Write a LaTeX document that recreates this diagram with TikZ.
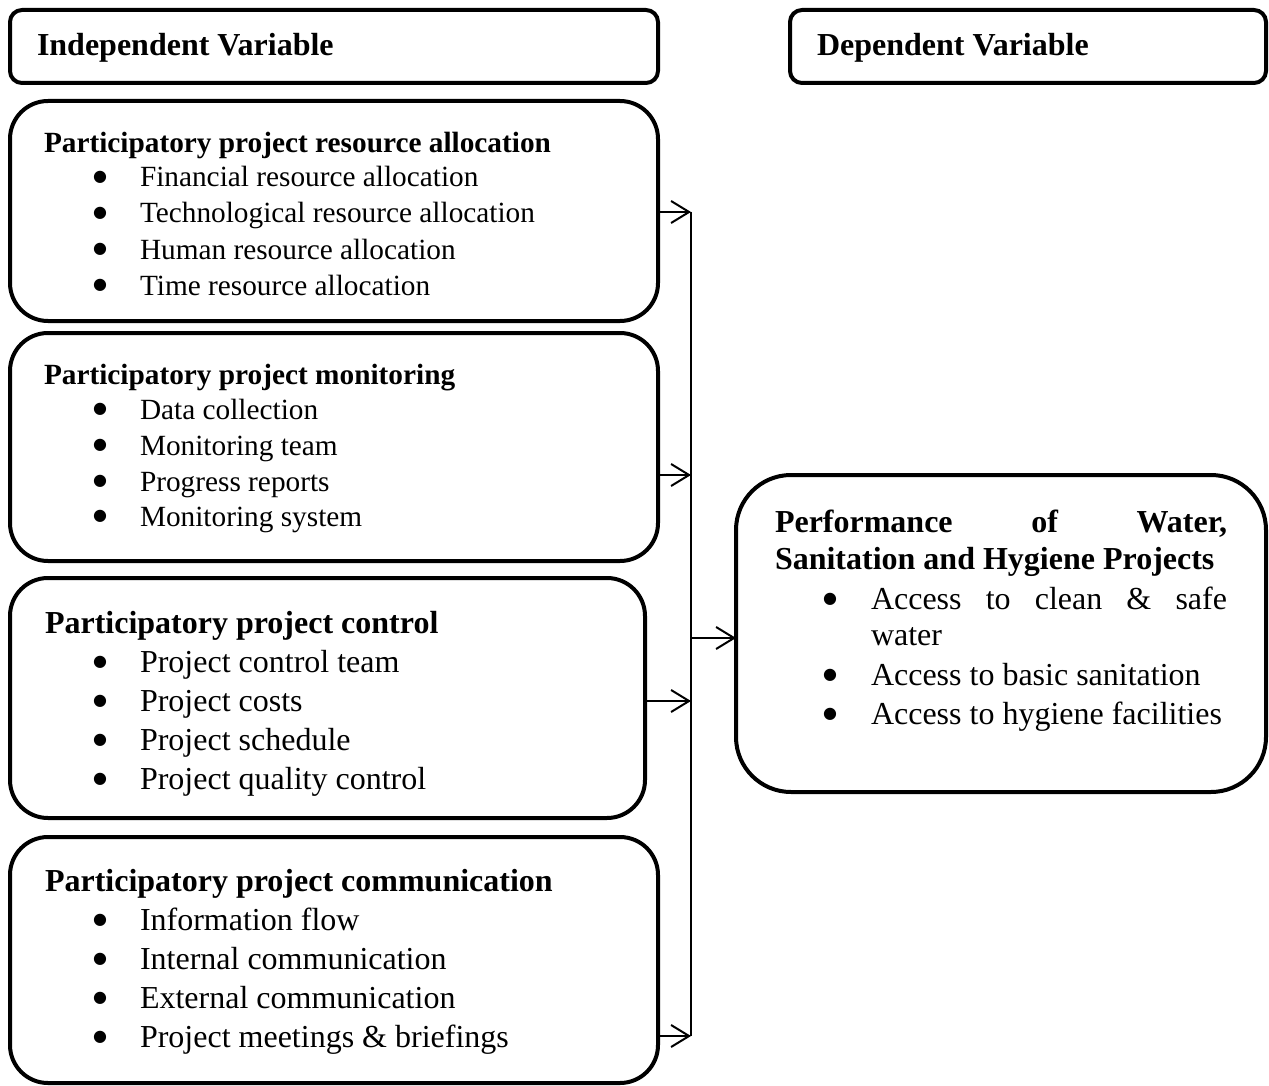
\documentclass[tikz,border=0pt]{standalone}
\usepackage{fontspec}
\setmainfont{Liberation Serif}
\newfontfamily\bulfont{DejaVu Sans}
\usetikzlibrary{arrows.meta}
\newcommand\sizeA{\fontsize{32}{39}\selectfont}
\newcommand\sizeB{\fontsize{29.3}{36}\selectfont}
\newcommand\bigbul{{\bulfont\fontsize{16}{16}\selectfont\raisebox{5.5pt}{●}}}
\tikzset{
  box/.style={draw, line width=4pt, inner sep=0pt, outer sep=0pt},
  txt/.style={anchor=base west, inner sep=0pt, outer sep=0pt},
  bul/.style={anchor=base, inner sep=0pt, outer sep=0pt},
  conn/.style={line width=2pt},
  arr/.style={line width=2pt, -{Straight Barb[length=18pt,width=22pt,line width=2pt]}},
}
\begin{document}
\begin{tikzpicture}[x=1pt,y=-1pt]
\useasboundingbox (0,0) rectangle (1269,1086);
% header boxes
\node[box, rounded corners=12pt, minimum width=648pt, minimum height=73pt] (hI) at (334,46.5) {};
\node[box, rounded corners=12pt, minimum width=476pt, minimum height=73pt] (hD) at (1028,46.5) {};
\node[txt, font=\sizeA\bfseries] (hIt) at (37,56) {Independent Variable};
\node[txt, font=\sizeA\bfseries] (hDt) at (817,56) {Dependent Variable};
% box 1
\node[box, rounded corners=38pt, minimum width=648pt, minimum height=220pt] (b1) at (334,211) {};
\node[txt, font=\sizeB\bfseries] (b1t) at (44,153) {Participatory project resource allocation};
\foreach \y/\s [count=\i] in {187/Financial resource allocation, 223/Technological resource allocation, 259/Human resource allocation, 295/Time resource allocation}{
  \node[bul] (b1b\i) at (100,\y) {\bigbul};
  \node[txt, font=\sizeB] (b1i\i) at (140,\y) {\s};
}
% box 2
\node[box, rounded corners=38pt, minimum width=648pt, minimum height=228pt] (b2) at (334,447) {};
\node[txt, font=\sizeB\bfseries] (b2t) at (44,384) {Participatory project monitoring};
\foreach \y/\s [count=\i] in {419/Data collection, 455/Monitoring team, 491/Progress reports, 526/Monitoring system}{
  \node[bul] (b2b\i) at (100,\y) {\bigbul};
  \node[txt, font=\sizeB] (b2i\i) at (140,\y) {\s};
}
% box 3
\node[box, rounded corners=38pt, minimum width=635pt, minimum height=240pt] (b3) at (327.5,698) {};
\node[txt, font=\sizeA\bfseries] (b3t) at (45,633) {Participatory project control};
\foreach \y/\s [count=\i] in {672/Project control team, 711/Project costs, 750/Project schedule, 789/Project quality control}{
  \node[bul] (b3b\i) at (100,\y) {\bigbul};
  \node[txt, font=\sizeA] (b3i\i) at (140,\y) {\s};
}
% box 4
\node[box, rounded corners=38pt, minimum width=648pt, minimum height=246pt] (b4) at (334,960) {};
\node[txt, font=\sizeA\bfseries] (b4t) at (45,891) {Participatory project communication};
\foreach \y/\s [count=\i] in {930/Information flow, 969/Internal communication, 1008/External communication, 1047/Project meetings \& briefings}{
  \node[bul] (b4b\i) at (100,\y) {\bigbul};
  \node[txt, font=\sizeA] (b4i\i) at (140,\y) {\s};
}
% right box
\node[box, rounded corners=55pt, minimum width=530pt, minimum height=317pt] (rb) at (1001,633.5) {};
\node[txt, font=\sizeA\bfseries] (rbt1) at (775,532) {\makebox[452pt][s]{Performance of Water,}};
\node[txt, font=\sizeA\bfseries] (rbt2) at (775,569) {Sanitation and Hygiene Projects};
\node[bul] (rbb1) at (830,609) {\bigbul};
\node[txt, font=\sizeA] (rbi1) at (871,609) {\makebox[356pt][s]{Access to clean \& safe}};
\node[txt, font=\sizeA] (rbi1b) at (871,645) {water};
\node[bul] (rbb2) at (830,685) {\bigbul};
\node[txt, font=\sizeA] (rbi2) at (871,685) {Access to basic sanitation};
\node[bul] (rbb3) at (830,724) {\bigbul};
\node[txt, font=\sizeA] (rbi3) at (871,724) {Access to hygiene facilities};
% connectors
\coordinate (j1) at (691,212);
\coordinate (j2) at (691,475);
\coordinate (j3) at (691,701);
\coordinate (j4) at (691,1036);
\coordinate (jr) at (691,638);
\draw[conn] (j1) -- (j4);
\draw[arr] (b1.east |- j1) -- (j1);
\draw[arr] (b2.east |- j2) -- (j2);
\draw[arr] (b3.east |- j3) -- (j3);
\draw[arr] (b4.east |- j4) -- (j4);
\draw[arr] (jr) -- (rb.west |- jr);
\end{tikzpicture}
\end{document}
